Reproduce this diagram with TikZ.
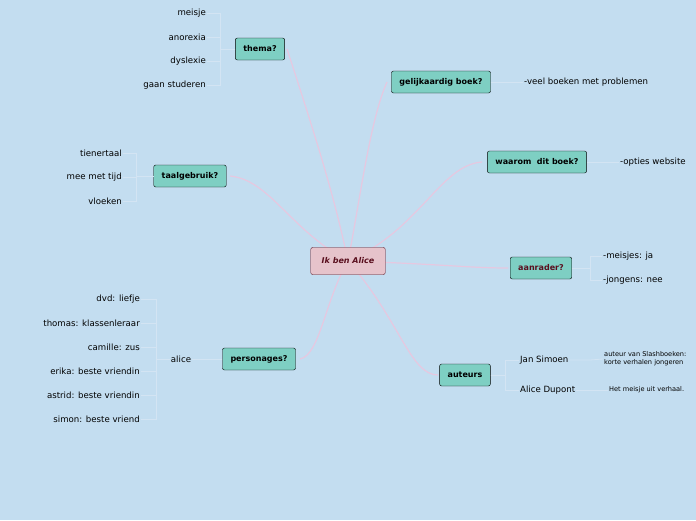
\documentclass[tikz,border=0pt]{standalone}
\usepackage{fontspec}
\setmainfont{DejaVu Sans}
\usetikzlibrary{positioning}
\definecolor{bgblue}{HTML}{C3DDF0}
\definecolor{topicfill}{HTML}{7ECFC3}
\definecolor{centerfill}{HTML}{E6C3CB}
\definecolor{centerdraw}{HTML}{5A0F1E}
\definecolor{pinkline}{HTML}{E6C8E0}
\definecolor{leafline}{HTML}{D3E4F3}
\tikzset{
  topic/.style={
    rectangle,
    rounded corners=2pt,
    draw=black, thin,
    fill=topicfill,
    minimum height=22pt,
    inner xsep=8pt,
    font=\fontsize{8}{10}\selectfont\bfseries
  },
  central/.style={
    topic,
    fill=centerfill,
    draw=centerdraw,
    minimum height=27pt,
    inner xsep=11pt,
    text=centerdraw,
    font=\fontsize{8}{10}\selectfont\bfseries\itshape
  },
  leaf/.style={
    inner sep=1pt,
    font=\fontsize{8.6}{10}\selectfont
  },
  branch/.style={
    draw=pinkline,
    line width=1.2pt
  },
  twig/.style={
    draw=leafline,
    line width=0.8pt
  }
}
\begin{document}
\begin{tikzpicture}[x=1pt,y=-1pt]
\useasboundingbox[fill=bgblue] (0,0) rectangle (696,520);
% edges first, under the nodes
\coordinate (c) at (348,261);
\draw[branch] (c) .. controls (335,200) and (320,150) .. (287,49);
\draw[branch] (c) .. controls (360,200) and (370,120) .. (387,82);
\draw[branch] (c) .. controls (420,230) and (440,165) .. (482,162);
\draw[branch] (c) .. controls (290,230) and (270,180) .. (230,176);
\draw[branch] (c) .. controls (440,264) and (470,268) .. (508,268);
\draw[branch] (c) .. controls (325,300) and (320,355) .. (300,359);
\draw[branch] (c) .. controls (400,320) and (410,375) .. (438,375);
% nodes
\node[central] (alice) at (348,261) {Ik ben Alice};
\node[topic] (thema) at (260,49) {thema?};
\node[topic] (gelijk) at (441,82) {gelijkaardig boek?};
\node[topic] (waarom) at (537,162) {waarom\ \ dit boek?};
\node[topic] (taal) at (190,176) {taalgebruik?};
\node[topic, text=centerdraw] (aanrader) at (541,268) {aanrader?};
\node[topic] (personages) at (259,359) {personages?};
\node[topic] (auteurs) at (465,375) {auteurs};

% leaves
\foreach \t [count=\i] in {meisje,anorexia,dyslexie,gaan studeren}
  \node[leaf, anchor=east] (th\i) at (207,13+24*\i-24) {\t};
\foreach \t [count=\i] in {tienertaal,mee met tijd,vloeken}
  \node[leaf, anchor=east] (ta\i) at (123,153+24*\i-24) {\t};
\node[leaf] (palice) at (181,359) {alice};
\foreach \t [count=\i] in {dvd: liefje,thomas: klassenleraar,camille: zus,erika: beste vriendin,astrid: beste vriendin,simon: beste vriend}
  \node[leaf, anchor=east] (pe\i) at (141,299+24*\i-24) {\t};
\node[leaf, anchor=west] (ge1) at (523,82) {-veel boeken met problemen};
\node[leaf, anchor=west] (wa1) at (619,162) {-opties website};
\node[leaf, anchor=west] (aa1) at (602,256) {-meisjes: ja};
\node[leaf, anchor=west] (aa2) at (602,280) {-jongens: nee};
\node[leaf, anchor=west] (jan) at (519,360) {Jan Simoen};
\node[leaf, anchor=west] (dupont) at (519,390) {Alice Dupont};
\node[leaf, anchor=west, align=left, font=\fontsize{6.6}{8}\selectfont] (jan1) at (603,359) {auteur van Slashboeken:\\korte verhalen jongeren};
\node[leaf, anchor=west, font=\fontsize{6.6}{8}\selectfont] (dupont1) at (608,390) {Het meisje uit verhaal.};

\foreach \i in {1,...,4} \draw[twig] (thema.west) -- (220,49) -- (220,13+24*\i-24) -- (th\i.east);
\foreach \i in {1,...,3} \draw[twig] (taal.west) -- (136,176) -- (136,153+24*\i-24) -- (ta\i.east);
\draw[twig] (personages.west) -- (palice.east);
\foreach \i in {1,...,6} \draw[twig] (palice.west) -- (156,359) -- (156,299+24*\i-24) -- (pe\i.east);
\draw[twig] (gelijk.east) -- (ge1.west);
\draw[twig] (waarom.east) -- (wa1.west);
\foreach \n in {aa1,aa2} \draw[twig] (aanrader.east) -- (590,268) |- (\n.west);
\foreach \n in {jan,dupont} \draw[twig] (auteurs.east) -- (505,375) |- (\n.west);
\draw[twig] (jan.east) -- (590,360) -- (jan1.west);
\draw[twig] (dupont.east) -- (dupont1.west);
\end{tikzpicture}
\end{document}
